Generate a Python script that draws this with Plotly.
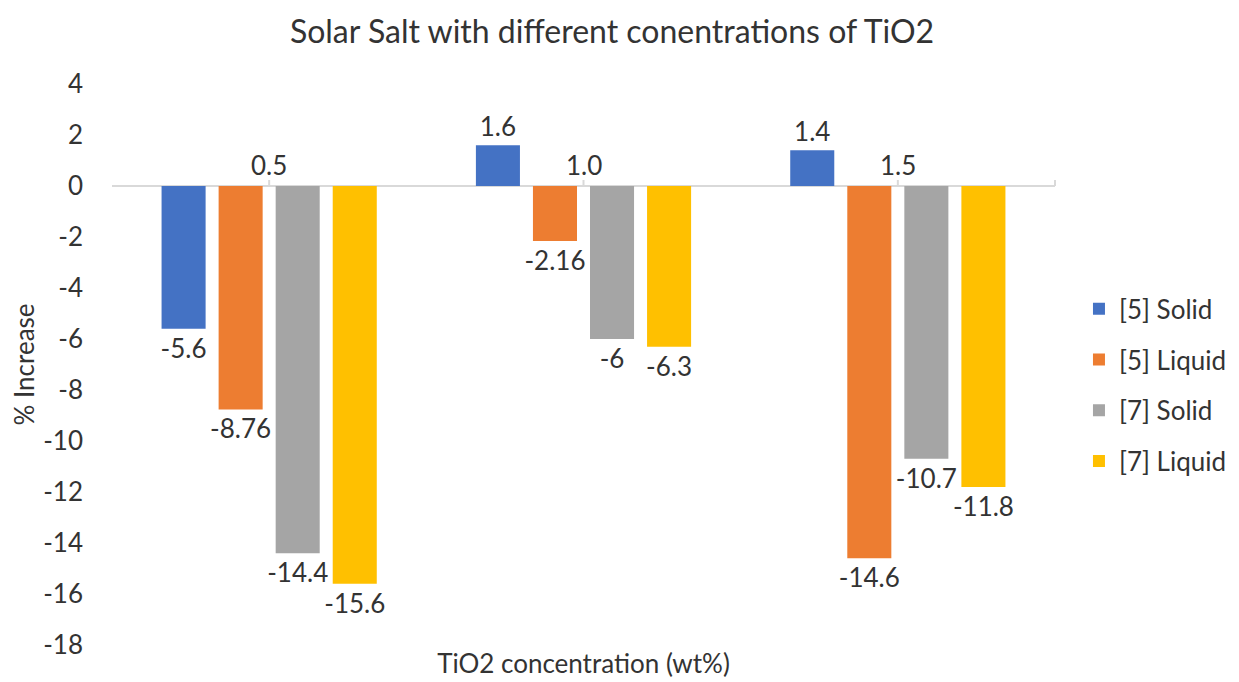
import plotly.graph_objects as go

categories = ["0.5", "1.0", "1.5"]
series_names = ["[5] Solid", "[5] Liquid", "[7] Solid", "[7] Liquid"]
solid5 = [-5.6, 1.6, 1.4]
liquid5 = [-8.76, -2.16, -14.6]
solid7 = [-14.4, -6, -10.7]
liquid7 = [-15.6, -6.3, -11.8]
colors = ["#4472C4", "#ED7D31", "#A5A5A5", "#FFC000"]
y_ticks = list(range(4, -19, -2))

FONT = "Lato, Open Sans, sans-serif"
TXT = "#333333"
FS = 26

fig = go.Figure()
for name, vals, col in zip(series_names, [solid5, liquid5, solid7, liquid7], colors):
    fig.add_trace(go.Bar(
        x=categories, y=vals, name=name, marker=dict(color=col, line=dict(width=0)),
        text=[f"{v:g}" for v in vals], textposition="outside", constraintext="none",
        textfont=dict(size=FS, color=TXT, family=FONT), cliponaxis=False,
        legendgroup=name, hoverinfo="skip",
    ))

for i, c in enumerate(categories):
    fig.add_annotation(x=i, y=0, xref="x", yref="y", text=c, showarrow=False,
                       yanchor="bottom", yshift=3, font=dict(size=FS, color=TXT, family=FONT))
    fig.add_shape(type="line", xref="x", yref="y", x0=i, x1=i, ysizemode="pixel", yanchor=0,
                  y0=0, y1=6, line=dict(color="#D9D9D9", width=2), layer="below")
fig.add_shape(type="line", xref="paper", yref="y", x0=1, x1=1, ysizemode="pixel", yanchor=0,
              y0=0, y1=6, line=dict(color="#D9D9D9", width=2), layer="below")

fig.update_layout(
    width=1231, height=674,
    margin=dict(l=104, r=184, t=76, b=37),
    paper_bgcolor="white", plot_bgcolor="white",
    barmode="group", bargap=0.274, bargroupgap=0.228,
    font=dict(family=FONT, color=TXT),
    title=dict(text="Solar Salt with different conentrations of TiO2", x=0.4907, xanchor="center",
               y=0.964, yanchor="middle", font=dict(size=32, color=TXT, family=FONT)),
    legend=dict(xref="container", x=0.870, xanchor="left", y=0.463, yanchor="middle",
                font=dict(size=FS, color=TXT, family=FONT), tracegroupgap=14,
                itemsizing="constant"),
    showlegend=True,
)
fig.update_xaxes(showticklabels=False, showline=False, showgrid=False, zeroline=False,
                 automargin=False,
                 title=dict(text="TiO2 concentration (wt%)", font=dict(size=FS, color=TXT, family=FONT), standoff=9))
fig.update_yaxes(range=[-18, 4], tickvals=y_ticks, ticktext=[str(t) for t in y_ticks],
                 showgrid=False, zeroline=True, automargin=False,
                 zerolinecolor="#D9D9D9", zerolinewidth=2, showline=False,
                 tickfont=dict(size=FS, color=TXT, family=FONT), ticklabelstandoff=28,
                 title=dict(text="% Increase", font=dict(size=FS, color=TXT, family=FONT), standoff=21))

fig.write_html("out.html")
